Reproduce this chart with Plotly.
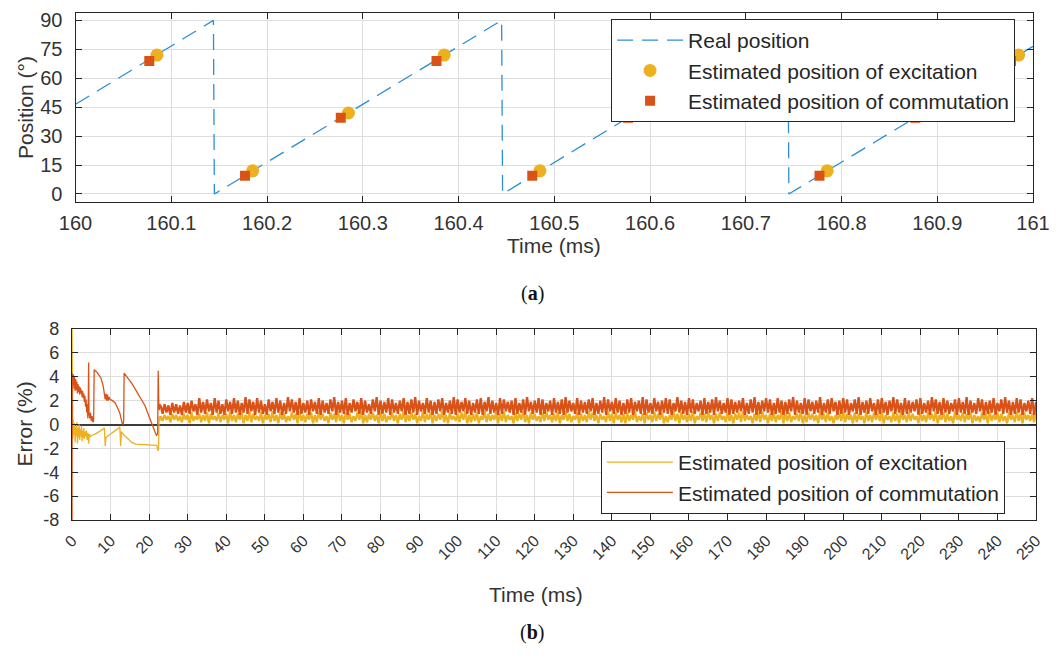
import plotly.graph_objects as go

# ---------------- (a) position data ----------------
real_time = [160.0, 160.144, 160.145, 160.445, 160.446, 160.744, 160.745, 161.0]
real_pos = [46.5, 90, 0, 90, 0, 90, 0, 76.5]

exc_time = [160.085, 160.185, 160.285, 160.385, 160.485, 160.585, 160.685, 160.785, 160.885, 160.985]
exc_pos = [72, 12, 42, 72, 12, 42, 72, 12, 42, 72]

com_time = [160.077, 160.177, 160.277, 160.377, 160.477, 160.577, 160.677, 160.777, 160.877, 160.977]
com_pos = [69, 9.5, 39.5, 69, 9.5, 39.5, 69, 9.5, 39.5, 69]

top_tickvals = [160.0, 160.1, 160.2, 160.3, 160.4, 160.5, 160.6, 160.7, 160.8, 160.9, 161.0]
top_ticktext = ["160", "160.1", "160.2", "160.3", "160.4", "160.5", "160.6", "160.7", "160.8", "160.9", "161"]
pos_ticks = [0, 15, 30, 45, 60, 75, 90]

# ---------------- (b) error data ----------------
# start-up transient (time ms, error %)
exc_transient = [(0, 8), (0.05, 0.2), (0.2, -1.2), (0.35, 0.4), (0.5, -0.9), (0.65, 0.1), (0.8, -1.5),
                 (0.95, -0.2), (1.1, -1.0), (1.25, 0.2), (1.4, -1.6), (1.55, -0.3), (1.7, -1.1), (1.85, 0.0),
                 (2.0, -1.3), (2.15, -0.4), (2.3, -1.0), (2.45, -0.1), (2.6, -1.4), (2.75, -0.5), (2.9, -1.1),
                 (3.05, -0.3), (3.2, -1.2), (3.35, -0.6), (3.5, -1.0), (3.7, -0.5), (3.9, -1.3), (4.1, -0.7),
                 (4.3, -1.6), (4.5, -0.8), (4.8, -1.0), (5.2, -0.9), (6.0, -0.8), (7.0, -0.6), (8.0, -0.4),
                 (8.4, -0.3), (8.6, -1.8), (8.8, -1.1), (9.5, -0.9), (10.5, -0.7), (11.5, -0.45), (12.4, -0.2),
                 (12.6, -1.8), (12.8, -0.6), (13.5, -0.9), (14.5, -1.2), (15.5, -1.5), (16.5, -1.65),
                 (18.5, -1.7), (20.5, -1.7), (22.0, -1.75), (22.3, -2.2), (22.45, -1.9), (22.6, 0.7), (22.8, 0.3),
                 (23.0, 0.7)]

com_transient = [(0, -8), (0.05, 4.3), (0.2, 3.3), (0.35, 4.2), (0.5, 3.0), (0.65, 4.0), (0.8, 2.8), (0.95, 3.8),
                 (1.1, 2.9), (1.25, 3.6), (1.4, 2.6), (1.55, 3.4), (1.7, 2.7), (1.85, 3.2), (2.0, 2.5),
                 (2.15, 3.1), (2.3, 2.6), (2.45, 2.9), (2.6, 2.3), (2.75, 2.8), (2.9, 2.2), (3.05, 2.6),
                 (3.2, 1.9), (3.35, 2.4), (3.5, 1.5), (3.65, 2.1), (3.8, 1.0), (3.95, 1.7), (4.1, 0.5),
                 (4.2, 1.3), (4.3, 5.2), (4.4, 1.0), (4.6, 0.5), (4.8, 1.0), (5.0, 0.3), (5.2, 0.7), (5.4, 0.2),
                 (5.6, 0.3), (5.75, 4.6), (6.4, 4.4), (7.5, 3.9), (8.1, 3.2), (8.4, 2.6), (8.6, 2.1), (8.8, 2.6),
                 (9.0, 2.0), (9.2, 2.5), (9.4, 2.0), (9.6, 2.3), (9.9, 2.1), (10.5, 2.0), (11.2, 1.8),
                 (11.8, 1.4), (12.4, 0.95), (13.0, 0.1), (13.2, 0.0), (13.4, 0.3), (13.5, 4.3), (15.5, 3.45),
                 (18.9, 1.6), (21.5, -0.6), (21.9, -0.9), (22.2, -0.8), (22.35, 4.5), (22.5, 1.7), (22.65, 1.2),
                 (22.8, 1.7), (23.0, 1.6)]

# steady-state ripple, one peak and one trough per ms from 23 ms to 250 ms
steady_start_ms = 23
com_peaks = [1.6, 1.7, 1.6, 1.8, 1.7, 1.6, 1.9, 1.8, 2.0, 1.7, 2.2, 1.9, 2.1, 1.8, 2.2, 2.0, 1.7, 2.1, 1.9, 2.2,
             2.0, 1.8, 2.3, 2.1, 1.9, 2.2, 2.0, 1.7, 2.1, 1.9, 2.2, 2.0, 1.8, 2.3, 2.1, 1.9, 2.2, 1.8, 2.0, 2.1,
             1.9, 2.2, 2.0, 1.8, 2.1, 2.3, 1.9, 2.0, 2.2, 1.8, 2.1, 1.9, 2.2, 2.0, 1.7, 2.1, 2.3, 2.0, 1.9, 2.2,
             2.1, 1.8, 2.0, 2.2, 1.9, 2.1, 2.3, 2.0, 1.8, 2.2, 2.0, 1.9, 2.1, 2.2, 1.8, 2.0, 2.3, 2.1, 1.9, 2.2,
             2.0, 1.8, 2.1, 2.2, 1.9, 2.3, 2.0, 1.8, 2.2, 2.1, 1.9, 2.0, 2.2, 1.8, 2.1, 2.3, 1.9, 2.0, 2.2, 2.1,
             1.8, 2.0, 2.2, 1.9, 2.1, 2.3, 2.0, 1.8, 2.2, 2.0, 1.9, 2.1, 2.2, 1.8, 2.0, 2.3, 2.1, 1.9, 2.2, 2.0,
             1.8, 2.1, 2.2, 1.9, 2.0, 2.3, 2.1, 1.8, 2.2, 1.9, 2.0, 2.2, 2.1, 1.8, 2.3, 2.0, 1.9, 2.2, 2.1, 1.8,
             2.0, 2.2, 1.9, 2.1, 2.3, 2.0, 1.8, 2.2, 2.1, 1.9, 2.0, 2.2, 1.8, 2.1, 2.3, 1.9, 2.0, 2.2, 2.1, 1.8,
             2.2, 2.0, 1.9, 2.1, 2.3, 2.0, 1.8, 2.2, 2.1, 1.9, 2.0, 2.3, 1.8, 2.1, 2.2, 1.9, 2.0, 2.2, 2.1, 1.8,
             2.1, 2.3, 1.9, 2.0, 2.2, 1.8, 2.1, 2.2, 1.9, 2.0, 2.3, 2.1, 1.8, 2.2, 2.0, 1.9, 2.1, 2.2, 1.8, 2.0,
             2.3, 2.1, 1.9, 2.2, 2.0, 1.8, 2.1, 2.2, 1.9, 2.3, 2.0, 1.8, 2.2, 2.1, 1.9, 2.0, 2.2, 1.8, 2.1, 2.3,
             2.0, 1.9, 2.2, 2.1, 1.8, 2.0, 2.2, 1.9]
com_troughs = [0.9, 1.0, 0.8, 1.0, 0.9, 0.8, 1.0, 0.9, 1.1, 0.8, 1.0, 0.9, 1.1, 0.8, 1.0, 0.9, 0.8, 1.1, 0.9, 1.0,
               0.8, 1.0, 0.9, 1.1, 0.8, 1.0, 0.9, 0.8, 1.1, 0.9, 1.0, 0.8, 0.9, 1.1, 1.0, 0.8, 0.9, 1.0, 0.8, 1.1,
               0.9, 0.8, 1.0, 0.9, 1.1, 0.8, 1.0, 0.9, 0.8, 1.0, 1.1, 0.9, 0.8, 1.0, 0.9, 1.1, 0.8, 0.9, 1.0, 0.8,
               1.0, 0.9, 1.1, 0.8, 0.9, 1.0, 0.8, 1.1, 0.9, 1.0, 0.8, 0.9, 1.1, 0.8, 1.0, 0.9, 0.8, 1.0, 1.1, 0.9,
               0.8, 1.0, 0.9, 0.8, 1.1, 0.9, 1.0, 0.8, 0.9, 1.1, 1.0, 0.8, 0.9, 1.0, 0.8, 1.1, 0.9, 1.0, 0.8, 0.9,
               1.1, 0.8, 1.0, 0.9, 0.8, 1.0, 1.1, 0.9, 0.8, 1.0, 0.9, 1.1, 0.8, 0.9, 1.0, 0.8, 1.1, 0.9, 1.0, 0.8,
               0.9, 1.0, 0.8, 1.1, 0.9, 0.8, 1.0, 0.9, 1.1, 0.8, 1.0, 0.9, 0.8, 1.1, 1.0, 0.9, 0.8, 1.0, 0.9, 1.1,
               0.8, 0.9, 1.0, 0.8, 1.1, 0.9, 1.0, 0.8, 0.9, 1.0, 1.1, 0.8, 0.9, 1.0, 0.8, 0.9, 1.1, 1.0, 0.8, 0.9,
               1.0, 0.8, 0.9, 1.1, 0.8, 1.0, 0.9, 0.8, 1.1, 0.9, 1.0, 0.8, 1.0, 0.9, 1.1, 0.8, 0.9, 1.0, 0.8, 1.1,
               0.9, 0.8, 1.0, 0.9, 1.1, 0.8, 0.9, 1.0, 0.8, 1.1, 0.9, 1.0, 0.8, 0.9, 1.0, 1.1, 0.8, 0.9, 1.0, 0.8,
               1.1, 0.9, 0.8, 1.0, 0.9, 1.1, 0.8, 1.0, 0.9, 0.8, 1.0, 0.9, 1.1, 0.8, 0.9, 1.0, 0.8, 1.1, 0.9, 1.0,
               0.8, 0.9, 1.0, 0.8, 1.1, 0.9, 0.8, 1.0]
exc_peaks = [0.7, 0.8, 0.7, 0.9, 0.8, 0.7, 0.9, 0.8, 1.0, 0.7, 0.9, 0.8, 1.0, 0.9, 0.7, 1.0, 0.8, 0.9, 1.1, 0.8,
             0.9, 1.0, 0.8, 1.1, 0.9, 0.7, 1.0, 0.8, 0.9, 1.1, 0.8, 1.0, 0.9, 0.7, 1.0, 0.9, 1.1, 0.8, 0.9, 1.0,
             0.8, 1.1, 0.9, 0.7, 1.0, 0.9, 1.1, 0.8, 1.0, 0.9, 0.7, 1.0, 1.1, 0.8, 0.9, 1.0, 0.8, 1.1, 0.9, 0.7,
             1.0, 0.8, 0.9, 1.1, 0.8, 1.0, 0.9, 0.7, 1.1, 0.9, 1.0, 0.8, 0.9, 1.1, 0.8, 1.0, 0.7, 0.9, 1.0, 1.1,
             0.8, 0.9, 1.0, 0.7, 1.1, 0.9, 0.8, 1.0, 0.9, 1.1, 0.8, 0.7, 1.0, 0.9, 1.1, 0.8, 1.0, 0.9, 0.7, 1.0,
             1.1, 0.8, 0.9, 1.0, 0.8, 1.1, 0.9, 0.7, 1.0, 0.9, 0.8, 1.1, 1.0, 0.8, 0.9, 0.7, 1.1, 0.9, 1.0, 0.8,
             0.9, 1.0, 0.8, 1.1, 0.7, 0.9, 1.0, 0.8, 1.1, 0.9, 1.0, 0.7, 0.8, 1.1, 0.9, 1.0, 0.8, 0.9, 1.1, 0.7,
             1.0, 0.9, 1.1, 0.8, 0.9, 1.0, 0.7, 1.1, 0.8, 0.9, 1.0, 1.1, 0.8, 0.7, 0.9, 1.0, 1.1, 0.8, 0.9, 1.0,
             0.8, 1.1, 0.9, 1.0, 0.7, 0.9, 1.1, 0.8, 1.0, 0.9, 0.8, 1.1, 0.9, 1.0, 0.7, 0.8, 1.0, 1.1, 0.9, 0.8,
             1.0, 0.9, 0.7, 1.1, 0.8, 1.0, 0.9, 1.1, 0.8, 0.7, 1.0, 0.9, 1.1, 0.8, 1.0, 0.9, 0.7, 1.1, 0.8, 1.0,
             0.9, 1.1, 0.8, 1.0, 0.9, 0.7, 1.1, 0.8, 1.0, 0.9, 1.1, 0.8, 0.7, 1.0, 0.9, 1.1, 0.8, 1.0, 0.9, 0.7,
             1.0, 0.8, 1.1, 0.9, 1.0, 0.8, 0.9, 1.1]
exc_troughs = [0.3, 0.4, 0.2, 0.4, 0.3, 0.2, 0.4, 0.1, 0.3, 0.4, 0.2, 0.3, 0.1, 0.4, 0.3, 0.2, 0.4, 0.1, 0.3, 0.2,
               0.4, 0.1, 0.3, 0.2, 0.4, 0.3, 0.1, 0.4, 0.2, 0.3, 0.1, 0.4, 0.2, 0.3, 0.4, 0.1, 0.3, 0.2, 0.4, 0.1,
               0.2, 0.4, 0.3, 0.1, 0.4, 0.2, 0.3, 0.1, 0.4, 0.2, 0.3, 0.4, 0.1, 0.2, 0.4, 0.3, 0.1, 0.3, 0.2, 0.4,
               0.3, 0.1, 0.4, 0.2, 0.3, 0.4, 0.1, 0.3, 0.2, 0.4, 0.1, 0.3, 0.4, 0.2, 0.1, 0.4, 0.3, 0.2, 0.4, 0.1,
               0.2, 0.3, 0.1, 0.4, 0.2, 0.3, 0.4, 0.1, 0.3, 0.2, 0.4, 0.1, 0.3, 0.4, 0.2, 0.1, 0.4, 0.3, 0.2, 0.3,
               0.4, 0.2, 0.3, 0.1, 0.4, 0.3, 0.2, 0.4, 0.1, 0.3, 0.2, 0.4, 0.3, 0.1, 0.4, 0.2, 0.3, 0.1, 0.4, 0.2,
               0.1, 0.3, 0.4, 0.2, 0.3, 0.1, 0.4, 0.2, 0.3, 0.4, 0.1, 0.2, 0.4, 0.3, 0.1, 0.4, 0.2, 0.3, 0.1, 0.4,
               0.3, 0.2, 0.4, 0.1, 0.3, 0.4, 0.2, 0.3, 0.1, 0.4, 0.2, 0.3, 0.4, 0.1, 0.3, 0.2, 0.4, 0.1, 0.3, 0.2,
               0.4, 0.1, 0.3, 0.2, 0.4, 0.3, 0.1, 0.2, 0.4, 0.3, 0.1, 0.4, 0.2, 0.3, 0.1, 0.4, 0.3, 0.2, 0.4, 0.1,
               0.2, 0.4, 0.1, 0.3, 0.2, 0.4, 0.3, 0.1, 0.4, 0.2, 0.3, 0.1, 0.4, 0.2, 0.3, 0.4, 0.1, 0.3, 0.2, 0.4,
               0.3, 0.1, 0.4, 0.2, 0.3, 0.1, 0.4, 0.3, 0.2, 0.4, 0.1, 0.3, 0.2, 0.4, 0.1, 0.3, 0.4, 0.2, 0.3, 0.1,
               0.4, 0.2, 0.3, 0.1, 0.4, 0.3, 0.2, 0.4]

err_ticks_x = list(range(0, 251, 10))
err_ticks_y = [-8, -6, -4, -2, 0, 2, 4, 6, 8]
err_ticks_y_text = ["-8", "-6", "-4", "-2", "0", "2", "4", "6", "8"]


def split_pairs(pairs):
    return [p[0] for p in pairs], [p[1] for p in pairs]


def ripple_series(peaks, troughs):
    xs, ys = [], []
    for i, (hi, lo) in enumerate(zip(peaks, troughs)):
        t = steady_start_ms + i
        xs += [t, t + 0.5]
        ys += [hi, lo]
    return xs, ys


exc_tx, exc_ty = split_pairs(exc_transient)
com_tx, com_ty = split_pairs(com_transient)
exc_sx, exc_sy = ripple_series(exc_peaks, exc_troughs)
com_sx, com_sy = ripple_series(com_peaks, com_troughs)

BLUE = "#2b8fd3"
YELLOW = "#EDB120"
ORANGE = "#D95319"
TXT = "#333333"
FONT = "Liberation Sans, Arial, sans-serif"

fig = go.Figure()

fig.add_trace(go.Scatter(x=real_time, y=real_pos, mode="lines", name="Real position",
                         line=dict(color=BLUE, width=1.3, dash="16px,9px"),
                         xaxis="x", yaxis="y", legend="legend"))
fig.add_trace(go.Scatter(x=exc_time, y=exc_pos, mode="markers", name="Estimated position of excitation",
                         marker=dict(symbol="circle", size=13, color=YELLOW),
                         xaxis="x", yaxis="y", legend="legend"))
fig.add_trace(go.Scatter(x=com_time, y=com_pos, mode="markers", name="Estimated position of commutation",
                         marker=dict(symbol="square", size=10, color=ORANGE),
                         xaxis="x", yaxis="y", legend="legend"))

fig.add_trace(go.Scatter(x=exc_tx, y=exc_ty, mode="lines", name="Estimated position of excitation",
                         line=dict(color=YELLOW, width=1.3), legendgroup="exc",
                         xaxis="x2", yaxis="y2", legend="legend2"))
fig.add_trace(go.Scatter(x=exc_sx, y=exc_sy, mode="lines", name="Estimated position of excitation",
                         line=dict(color=YELLOW, width=2.3), legendgroup="exc", showlegend=False,
                         xaxis="x2", yaxis="y2", legend="legend2"))
fig.add_trace(go.Scatter(x=com_tx, y=com_ty, mode="lines", name="Estimated position of commutation",
                         line=dict(color=ORANGE, width=1.3), legendgroup="com",
                         xaxis="x2", yaxis="y2", legend="legend2"))
fig.add_trace(go.Scatter(x=com_sx, y=com_sy, mode="lines", name="Estimated position of commutation",
                         line=dict(color=ORANGE, width=2.3), legendgroup="com", showlegend=False,
                         xaxis="x2", yaxis="y2", legend="legend2"))

axis_common = dict(showline=True, linecolor="#262626", linewidth=1.2, mirror="ticks",
                   ticks="inside", ticklen=6, tickcolor="#262626", tickwidth=1,
                   showgrid=True, gridcolor="#dedede", gridwidth=1, automargin=False)

legend_common = dict(bgcolor="white", bordercolor="#262626", borderwidth=1,
                     font=dict(family=FONT, size=21, color="#262626"), itemwidth=66, tracegroupgap=0)

fig.update_layout(
    width=1064, height=660,
    margin=dict(l=0, r=0, t=0, b=0, autoexpand=False),
    paper_bgcolor="white", plot_bgcolor="white",
    font=dict(family=FONT, color=TXT),
    xaxis=dict(domain=[0.0710, 0.9709], range=[160, 161], anchor="y", zeroline=False,
               tickvals=top_tickvals, ticktext=top_ticktext, ticklabelstandoff=3,
               tickfont=dict(family=FONT, size=20, color=TXT), **axis_common),
    yaxis=dict(domain=[0.6944, 0.9808], range=[-4, 94], anchor="x", zeroline=False,
               tickvals=pos_ticks, ticklabelstandoff=8,
               tickfont=dict(family=FONT, size=20, color=TXT), **axis_common),
    xaxis2=dict(domain=[0.0677, 0.9737], range=[0, 250], anchor="y2", zeroline=False,
                tickvals=err_ticks_x, tickangle=-45, ticklabelstandoff=4,
                tickfont=dict(family=FONT, size=16, color=TXT), **axis_common),
    yaxis2=dict(domain=[0.2121, 0.5015], range=[-8, 8], anchor="x2",
                tickvals=err_ticks_y, ticktext=err_ticks_y_text, ticklabelstandoff=8,
                tickfont=dict(family=FONT, size=18, color=TXT),
                zeroline=True, zerolinecolor="#3c3c3c", zerolinewidth=2, **axis_common),
    legend=dict(x=0.954, xanchor="right", y=0.9712, yanchor="top", **legend_common),
    legend2=dict(x=0.9445, xanchor="right", y=0.3318, yanchor="top", **legend_common),
    showlegend=True,
    annotations=[
        dict(text="Position (°)", x=0.0244, y=0.8379, xref="paper", yref="paper", textangle=-90,
             xanchor="center", yanchor="middle",
             showarrow=False, font=dict(family=FONT, size=21, color=TXT)),
        dict(text="Time (ms)", x=0.5207, y=0.6273, xref="paper", yref="paper",
             xanchor="center", yanchor="middle",
             showarrow=False, font=dict(family=FONT, size=21, color=TXT)),
        dict(text="(<b>a</b>)", x=0.5, y=0.556, xref="paper", yref="paper",
             xanchor="center", yanchor="middle",
             showarrow=False, font=dict(family="Liberation Serif, serif", size=20, color="#111111")),
        dict(text="Error (%)", x=0.0235, y=0.3568, xref="paper", yref="paper", textangle=-90,
             xanchor="center", yanchor="middle",
             showarrow=False, font=dict(family=FONT, size=21, color=TXT)),
        dict(text="Time (ms)", x=0.5038, y=0.0985, xref="paper", yref="paper",
             xanchor="center", yanchor="middle",
             showarrow=False, font=dict(family=FONT, size=21, color=TXT)),
        dict(text="(<b>b</b>)", x=0.5, y=0.0424, xref="paper", yref="paper",
             xanchor="center", yanchor="middle",
             showarrow=False, font=dict(family="Liberation Serif, serif", size=20, color="#111111")),
    ],
)

fig.write_html("out.html")
